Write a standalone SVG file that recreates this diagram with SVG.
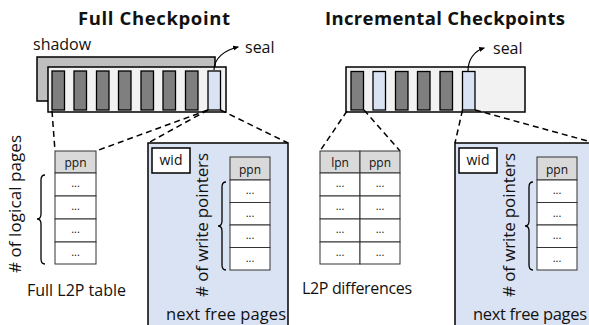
<svg xmlns="http://www.w3.org/2000/svg" width="589" height="325" viewBox="0 0 589 325">
<defs>
<marker id="ah" viewBox="0 0 10 10" refX="8" refY="5" markerWidth="5" markerHeight="5" orient="auto"><path d="M0,1 L10,5 L0,9 Z" fill="#000"/></marker>
<style>
text{font-family:"Open Sans","DejaVu Sans",sans-serif;fill:#111}
.title{font-weight:bold;font-size:18.5px;text-anchor:middle}
.lbl{font-size:16px}
.rot{font-size:17px;text-anchor:middle}
.cell{font-size:12px;text-anchor:middle}
.dots{font-size:11px;text-anchor:middle}
.slot{stroke:#000;stroke-width:1.3}
.g{fill:#7f7f7f}
.b{fill:#dae3f3}
.hdr{fill:#d9d9d9;stroke:#333;stroke-width:1}
.row{fill:#fff;stroke:#333;stroke-width:1}
.dash{stroke:#000;stroke-width:1.5;stroke-dasharray:6 4;fill:none}
.brace{fill:none;stroke:#000;stroke-width:1.3}
</style>
</defs>
<rect width="589" height="325" fill="#fff"/>

<text class="title" x="154" y="25" textLength="152" lengthAdjust="spacing">Full Checkpoint</text>
<text class="title" x="445" y="25" textLength="240" lengthAdjust="spacing">Incremental Checkpoints</text>

<g id="full-segment">
<text class="lbl" x="33" y="50">shadow</text>
<rect x="37" y="57" width="178" height="44" fill="#bfbfbf" stroke="#000" stroke-width="1.5"/>
<rect x="48" y="67" width="178" height="45" fill="#f2f2f2" stroke="#000" stroke-width="1.5"/>
<rect class="slot g" x="52" y="71" width="12.5" height="39"/>
<rect class="slot g" x="74" y="71" width="12.5" height="39"/>
<rect class="slot g" x="96.5" y="71" width="12.5" height="39"/>
<rect class="slot g" x="118.5" y="71" width="12.5" height="39"/>
<rect class="slot g" x="141" y="71" width="12.5" height="39"/>
<rect class="slot g" x="163" y="71" width="12.5" height="39"/>
<rect class="slot g" x="185.5" y="71" width="12.5" height="39"/>
<rect class="slot b" x="208" y="71" width="12.5" height="39"/>
<text class="lbl" x="245" y="53">seal</text>
</g>

<g id="inc-segment">
<rect x="346" y="67" width="179" height="45" fill="#f2f2f2" stroke="#000" stroke-width="1.5"/>
<rect class="slot g" x="351" y="71.5" width="12.5" height="38.5"/>
<rect class="slot b" x="373" y="71.5" width="12.5" height="38.5"/>
<rect class="slot g" x="395.5" y="71.5" width="12.5" height="38.5"/>
<rect class="slot g" x="417.5" y="71.5" width="12.5" height="38.5"/>
<rect class="slot g" x="440" y="71.5" width="12.5" height="38.5"/>
<rect class="slot b" x="462.5" y="71.5" width="12.5" height="38.5"/>
<text class="lbl" x="493" y="54">seal</text>
</g>

<g id="connectors">
<path d="M214,70 C214,58 225,50 238,47" fill="none" stroke="#000" stroke-width="1.2" marker-end="url(#ah)"/>
<path d="M468,71 C468,60 474,51 484,48" fill="none" stroke="#000" stroke-width="1.2" marker-end="url(#ah)"/>
<line class="dash" x1="52" y1="111" x2="55" y2="151"/>
<line class="dash" x1="208" y1="110" x2="96" y2="151"/>
<line class="dash" x1="208" y1="110" x2="148" y2="143"/>
<line class="dash" x1="220.5" y1="110" x2="288" y2="143"/>
<line class="dash" x1="347" y1="111" x2="320" y2="151"/>
<line class="dash" x1="364" y1="110" x2="400" y2="151"/>
<line class="dash" x1="462.5" y1="110" x2="455" y2="143"/>
<line class="dash" x1="475" y1="110" x2="595" y2="143"/>
</g>

<g id="full-l2p">
<rect class="hdr" x="55" y="151" width="41" height="22"/>
<text class="cell" x="75.5" y="167">ppn</text>
<rect class="row" x="55" y="173" width="41" height="23"/>
<rect class="row" x="55" y="196" width="41" height="23"/>
<rect class="row" x="55" y="219" width="41" height="23"/>
<rect class="row" x="55" y="242" width="41" height="22"/>
<text class="dots" x="75.5" y="187">...</text>
<text class="dots" x="75.5" y="210">...</text>
<text class="dots" x="75.5" y="233">...</text>
<text class="dots" x="75.5" y="256">...</text>
<path class="brace" d="M45,175 Q41,175 41,180 L41,214 Q41,219 37,219 Q41,219 41,224 L41,259 Q41,264 45,264"/>
<text class="rot" x="21" y="204" transform="rotate(-90 21 204)" textLength="138" lengthAdjust="spacing"># of logical pages</text>
<text class="lbl" x="27" y="296" textLength="99" lengthAdjust="spacing">Full L2P table</text>
</g>

<g id="full-wp">
<rect x="148" y="143" width="140" height="190" fill="#dae3f3" stroke="#000" stroke-width="1.5"/>
<rect x="152" y="148" width="38" height="25" fill="#fff" stroke="#000" stroke-width="1.5"/>
<text x="171" y="165" text-anchor="middle" font-size="14">wid</text>
<rect class="hdr" x="230" y="157" width="40" height="23"/>
<text class="cell" x="250" y="174">ppn</text>
<rect class="row" x="230" y="180" width="40" height="22.5"/>
<rect class="row" x="230" y="202.5" width="40" height="22.5"/>
<rect class="row" x="230" y="225" width="40" height="22.5"/>
<rect class="row" x="230" y="247.5" width="40" height="22.5"/>
<text class="dots" x="250" y="194">...</text>
<text class="dots" x="250" y="216.5">...</text>
<text class="dots" x="250" y="239">...</text>
<text class="dots" x="250" y="261.5">...</text>
<path class="brace" d="M226,182 Q222,182 222,187 L222,221 Q222,226 218,226 Q222,226 222,231 L222,265 Q222,270 226,270"/>
<text class="rot" x="208" y="225" transform="rotate(-90 208 225)" textLength="144" lengthAdjust="spacing"># of write pointers</text>
<text x="166" y="320" font-size="16.5" textLength="120" lengthAdjust="spacing">next free pages</text>
</g>

<g id="inc-l2p">
<rect class="hdr" x="320" y="151" width="40" height="22"/>
<rect class="hdr" x="360" y="151" width="40" height="22"/>
<text class="cell" x="340" y="167">lpn</text>
<text class="cell" x="380" y="167">ppn</text>
<rect class="row" x="320" y="173" width="40" height="23"/>
<rect class="row" x="360" y="173" width="40" height="23"/>
<rect class="row" x="320" y="196" width="40" height="23"/>
<rect class="row" x="360" y="196" width="40" height="23"/>
<rect class="row" x="320" y="219" width="40" height="23"/>
<rect class="row" x="360" y="219" width="40" height="23"/>
<rect class="row" x="320" y="242" width="40" height="22"/>
<rect class="row" x="360" y="242" width="40" height="22"/>
<text class="dots" x="340" y="187">...</text><text class="dots" x="380" y="187">...</text>
<text class="dots" x="340" y="210">...</text><text class="dots" x="380" y="210">...</text>
<text class="dots" x="340" y="233">...</text><text class="dots" x="380" y="233">...</text>
<text class="dots" x="340" y="256">...</text><text class="dots" x="380" y="256">...</text>
<text class="lbl" x="302" y="294" textLength="110" lengthAdjust="spacing">L2P differences</text>
</g>

<g id="inc-wp">
<rect x="455" y="143" width="140" height="190" fill="#dae3f3" stroke="#000" stroke-width="1.5"/>
<rect x="459" y="148" width="38" height="25" fill="#fff" stroke="#000" stroke-width="1.5"/>
<text x="478" y="165" text-anchor="middle" font-size="14">wid</text>
<rect class="hdr" x="537" y="157" width="40" height="23"/>
<text class="cell" x="557" y="174">ppn</text>
<rect class="row" x="537" y="180" width="40" height="22.5"/>
<rect class="row" x="537" y="202.5" width="40" height="22.5"/>
<rect class="row" x="537" y="225" width="40" height="22.5"/>
<rect class="row" x="537" y="247.5" width="40" height="22.5"/>
<text class="dots" x="557" y="194">...</text>
<text class="dots" x="557" y="216.5">...</text>
<text class="dots" x="557" y="239">...</text>
<text class="dots" x="557" y="261.5">...</text>
<path class="brace" d="M533,182 Q529,182 529,187 L529,221 Q529,226 525,226 Q529,226 529,231 L529,265 Q529,270 533,270"/>
<text class="rot" x="515" y="225" transform="rotate(-90 515 225)" textLength="144" lengthAdjust="spacing"># of write pointers</text>
<text x="473" y="320" font-size="16.5" textLength="114" lengthAdjust="spacing">next free pages</text>
</g>
</svg>
